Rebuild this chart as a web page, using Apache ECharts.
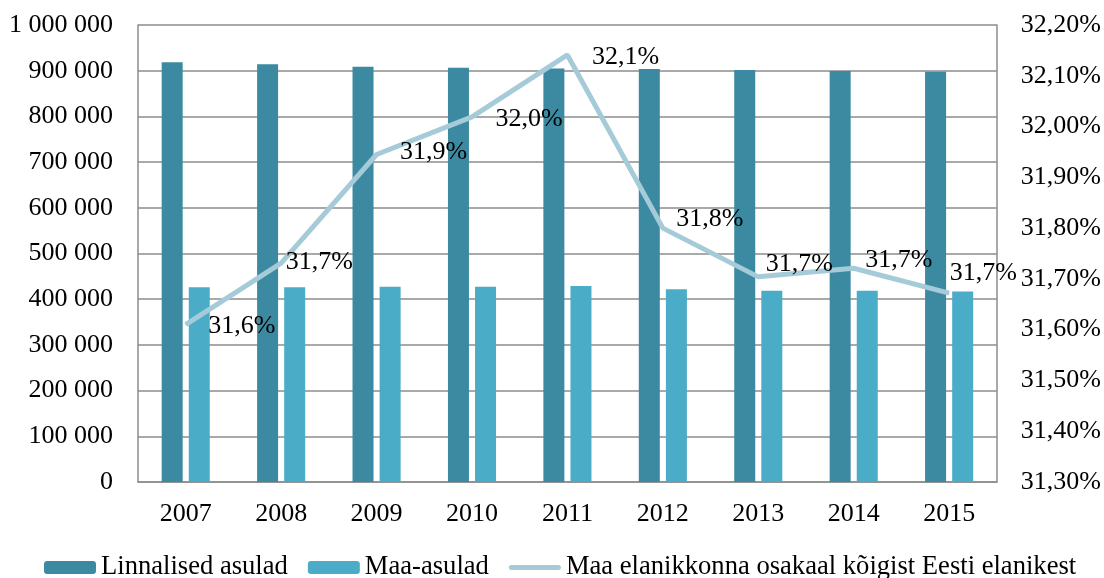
<!DOCTYPE html>
<html>
<head>
<meta charset="utf-8">
<script src="https://cdn.jsdelivr.net/npm/echarts@6/dist/echarts.min.js"></script>
<style>
  html, body { margin: 0; padding: 0; background: #fff; }
  #chart { width: 1104px; height: 578px; }
</style>
</head>
<body>
<div id="chart"></div>
<script>
// andmed
const years = ['2007', '2008', '2009', '2010', '2011', '2012', '2013', '2014', '2015'];
const linnalised = [918400, 914000, 908800, 906600, 905000, 903500, 901500, 899300, 897800];
const maaAsulad = [426000, 426000, 427400, 427400, 428900, 421700, 418600, 418600, 416800];
const osakaal = [31.61, 31.731, 31.945, 32.019, 32.141, 31.80, 31.704, 31.721, 31.672]; // %
// sildi nihked (ainult paigutus)
const labelShift = [[22, 2], [4, -1], [23, -2], [23, 2], [24, 2], [13, -9], [7, -13], [11, -8], [0, -20]];

const font = 'Liberation Serif';
const gridColor = '#8c8c8c';

function spaced(v) {
  return String(v).replace(/\B(?=(\d{3})+(?!\d))/g, ' ');
}

const chart = echarts.init(document.getElementById('chart'));
chart.setOption({
  animation: false,
  textStyle: { fontFamily: font, color: '#000' },
  grid: { left: 138, right: 106, top: 25, bottom: 96 },
  legend: {
    left: 39,
    top: 549,
    itemWidth: 52,
    itemHeight: 13,
    itemGap: 20,
    textStyle: { fontFamily: font, fontSize: 26.6, color: '#000' },
    data: [
      'Linnalised asulad',
      'Maa-asulad',
      {
        name: 'Maa elanikkonna osakaal kõigist Eesti elanikest',
        icon: 'path://M2.5,0 H49.5 A2.5,2.5 0 0 1 49.5,5 H2.5 A2.5,2.5 0 0 1 2.5,0 Z',
        itemStyle: { color: '#a6cbd8' }
      }
    ]
  },
  xAxis: {
    type: 'category',
    data: years,
    axisLine: { lineStyle: { color: gridColor, width: 1.5 } },
    axisTick: { show: false },
    axisLabel: { fontSize: 26, color: '#000', margin: 19 }
  },
  yAxis: [
    {
      type: 'value',
      min: 0,
      max: 1000000,
      interval: 100000,
      axisLine: { show: true, lineStyle: { color: gridColor, width: 1.5 } },
      axisTick: { show: false },
      splitLine: { lineStyle: { color: gridColor, width: 1.5 } },
      axisLabel: { fontSize: 26, color: '#000', margin: 25, formatter: v => spaced(v) }
    },
    {
      type: 'value',
      min: 31.3,
      max: 32.2,
      interval: 0.1,
      axisLine: { show: true, lineStyle: { color: gridColor, width: 1.5 } },
      axisTick: { show: false },
      splitLine: { show: false },
      axisLabel: { fontSize: 26, color: '#000', margin: 24, formatter: v => v.toFixed(2).replace('.', ',') + '%' }
    }
  ],
  series: [
    {
      name: 'Linnalised asulad',
      type: 'bar',
      data: linnalised,
      barWidth: 21,
      barGap: '29%',
      itemStyle: { color: '#3b8aa1' }
    },
    {
      name: 'Maa-asulad',
      type: 'bar',
      data: maaAsulad,
      barWidth: 21,
      itemStyle: { color: '#4aacc6' }
    },
    {
      name: 'Maa elanikkonna osakaal kõigist Eesti elanikest',
      type: 'line',
      yAxisIndex: 1,
      data: osakaal.map((v, i) => ({
        value: v,
        label: { offset: labelShift[i] }
      })),
      symbol: 'circle',
      symbolSize: 1,
      lineStyle: { color: '#a6cbd8', width: 5 },
      itemStyle: { color: '#a6cbd8' },
      label: {
        show: true,
        position: 'right',
        distance: 0,
        fontSize: 26,
        fontFamily: font,
        color: '#000',
        formatter: p => p.value.toFixed(1).replace('.', ',') + '%'
      }
    }
  ]
});
</script>
</body>
</html>
